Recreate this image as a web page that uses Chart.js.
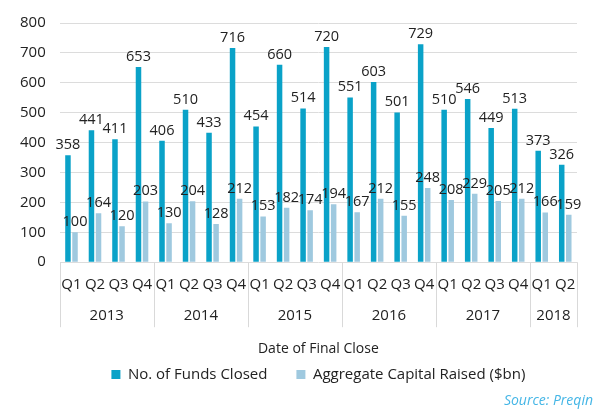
<!DOCTYPE html>
<html>
<head>
<meta charset="utf-8">
<script src="https://cdn.jsdelivr.net/npm/chart.js@4"></script>
<style>
  html, body { margin: 0; padding: 0; background: #fff; }
  #wrap { width: 611px; height: 414px; position: relative; }
</style>
</head>
<body>
<div id="wrap"><canvas id="chart"></canvas></div>
<script>
// data
const quarters = ['Q1','Q2','Q3','Q4','Q1','Q2','Q3','Q4','Q1','Q2','Q3','Q4',
                  'Q1','Q2','Q3','Q4','Q1','Q2','Q3','Q4','Q1','Q2'];
const years = ['2013','2014','2015','2016','2017','2018'];
const yearSpans = [4, 4, 4, 4, 4, 2];
const fundsClosed = [358,441,411,653,406,510,433,716,454,660,514,720,551,603,501,729,510,546,449,513,373,326];
const capitalRaised = [100,164,120,203,130,204,128,212,153,182,174,194,167,212,155,248,208,229,205,212,166,159];
const yTicks = [0,100,200,300,400,500,600,700,800];

const FONT = '"Open Sans", "Noto Sans", sans-serif';
const TEXT = '#222222';

// value labels, year row, separators and source note
const extras = {
    id: 'extras',
    afterDraw(chart) {
        const ctx = chart.ctx;
        const x = chart.scales.x;
        const y = chart.scales.y;
        ctx.save();

        // value labels on top of each bar
        ctx.font = '14.5px ' + FONT;
        ctx.fillStyle = TEXT;
        ctx.textAlign = 'center';
        ctx.textBaseline = 'bottom';
        chart.data.datasets.forEach((ds, di) => {
            const meta = chart.getDatasetMeta(di);
            meta.data.forEach((bar, i) => {
                ctx.fillText(String(ds.data[i]), bar.x, bar.y - 3);
            });
        });

        // year separators and labels
        const catW = (x.right - x.left) / quarters.length;
        const base = y.bottom;
        ctx.strokeStyle = '#d9d9d9';
        ctx.lineWidth = 1;
        let start = 0;
        const edges = [0];
        yearSpans.forEach(s => { start += s; edges.push(start); });
        edges.forEach(e => {
            const px = Math.round(x.left + e * catW) + 0.5;
            ctx.beginPath();
            ctx.moveTo(px, base);
            ctx.lineTo(px, base + 65);
            ctx.stroke();
        });
        ctx.font = '15px ' + FONT;
        ctx.textBaseline = 'middle';
        ctx.fillStyle = TEXT;
        years.forEach((yr, k) => {
            const mid = x.left + (edges[k] + edges[k + 1]) / 2 * catW;
            ctx.fillText(yr, mid, base + 54);
        });

        // source note
        ctx.font = 'italic 14px ' + FONT;
        ctx.fillStyle = '#45b6e6';
        ctx.textAlign = 'right';
        ctx.fillText('Source: Preqin', chart.width - 18, chart.height - 13);
        ctx.restore();
    }
};

new Chart(document.getElementById('chart'), {
    type: 'bar',
    data: {
        labels: quarters,
        datasets: [
            {
                label: 'No. of Funds Closed',
                data: fundsClosed,
                backgroundColor: '#0aa2c8',
                categoryPercentage: 0.6,
                barPercentage: 0.78,
            },
            {
                label: 'Aggregate Capital Raised ($bn)',
                data: capitalRaised,
                backgroundColor: '#9fc9df',
                categoryPercentage: 0.6,
                barPercentage: 0.78,
            },
        ],
    },
    options: {
        responsive: true,
        maintainAspectRatio: false,
        animation: false,
        layout: { padding: { top: 1, right: 34, left: 6, bottom: 22 } },
        scales: {
            x: {
                grid: { display: false },
                border: { display: false },
                ticks: {
                    color: TEXT,
                    font: { family: FONT, size: 15 },
                    padding: 6,
                    maxRotation: 0,
                    autoSkip: false,
                },
                title: {
                    display: true,
                    text: 'Date of Final Close',
                    color: TEXT,
                    font: { family: FONT, size: 14 },
                    padding: { top: 40, bottom: -19 },
                },
            },
            y: {
                min: 0,
                max: 800,
                afterBuildTicks: (axis) => { axis.ticks = yTicks.map(v => ({ value: v })); },
                grid: { color: '#dcdcdc', drawTicks: false },
                border: { display: false },
                ticks: {
                    color: TEXT,
                    font: { family: FONT, size: 15 },
                    padding: 14,
                },
            },
        },
        plugins: {
            legend: {
                position: 'bottom',
                fullSize: false,
                labels: {
                    color: TEXT,
                    font: { family: FONT, size: 15 },
                    boxWidth: 9,
                    boxHeight: 9,
                    padding: 29,
                },
            },
            tooltip: { enabled: false },
        },
    },
    plugins: [extras],
});
</script>
</body>
</html>
